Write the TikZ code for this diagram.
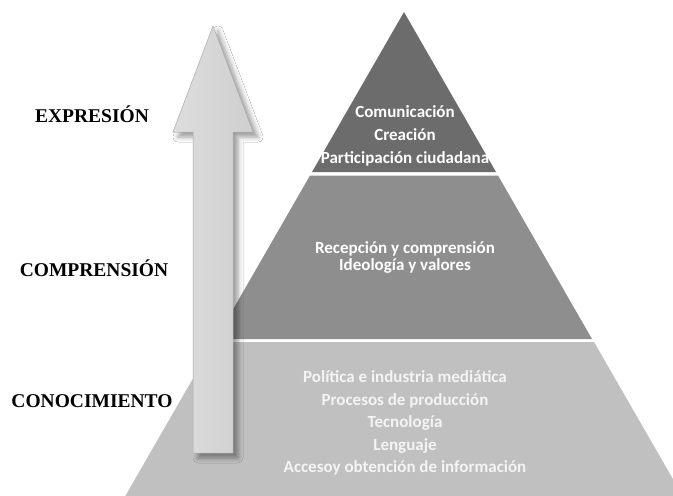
\documentclass[tikz,border=0pt]{standalone}
\usepackage{fontspec}
\setmainfont{Liberation Serif}
\newfontfamily\tierfont{Carlito}
\usetikzlibrary{shadows.blur}
\definecolor{tierA}{HTML}{6C6C6C}
\definecolor{tierB}{HTML}{8E8E8E}
\definecolor{tierC}{HTML}{C0C0C0}
\definecolor{arrowL}{HTML}{DDDDDD}
\definecolor{arrowR}{HTML}{CFCFCF}
\definecolor{arrowEdge}{HTML}{ABABAB}
\definecolor{textC}{HTML}{F4F4F4}
\tikzset{
  tiertext/.style={text=white, font=\tierfont\bfseries\fontsize{17}{23}\selectfont, align=center, inner sep=0pt},
  levellabel/.style={font=\bfseries\fontsize{19.5}{22}\selectfont, text=black, inner sep=0pt},
  tier/.style={draw=none}
}
\begin{document}
\begin{tikzpicture}[x=1pt,y=-1pt]
\path[use as bounding box, fill=white] (0,0) rectangle (673,496);
\clip (0,0) rectangle (673,496);
% pyramid tiers
\fill[tierA] (404,12) -- (496,172) -- (312,172) -- cycle;
\fill[tierB] (310,175.5) -- (498,175.5) -- (592,339) -- (216,339) -- cycle;
\fill[tierC] (214,342) -- (594,342) -- (685,500) -- (123,500) -- cycle;
% arrow
\path[left color=arrowL, right color=arrowR, draw=arrowEdge, line width=0.5pt,
  blur shadow={shadow xshift=5pt, shadow yshift=-5pt, shadow blur radius=5pt, shadow opacity=40}]
  (193,453) -- (193,132) -- (173,132) -- (213,26) -- (253,132) -- (233,132) -- (233,453) -- cycle;
% tier texts
\node[tiertext] (top) at (405,136) {Comunicación\\Creación\\Participación ciudadana};
\node[tiertext, font=\tierfont\bfseries\fontsize{17}{17}\selectfont] (mid) at (405,257.5) {Recepción y comprensión\\Ideología y valores};
\node[tiertext, text=textC, font=\tierfont\bfseries\fontsize{17}{22.5}\selectfont] (bot) at (405,423) {Política e industria mediática\\Procesos de producción\\Tecnología\\Lenguaje\\Accesoy obtención de información};
% level labels
\node[levellabel] (expr) at (92,114) {EXPRESIÓN};
\node[levellabel] (comp) at (94,268) {COMPRENSIÓN};
\node[levellabel] (cono) at (92,401) {CONOCIMIENTO};
\end{tikzpicture}
\end{document}
